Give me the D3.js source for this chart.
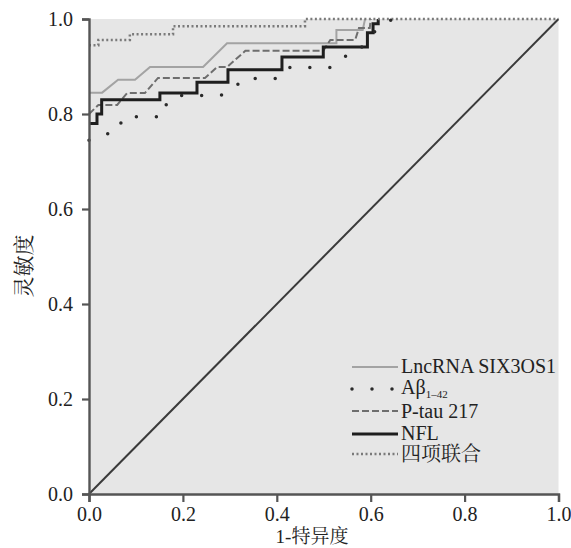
<!DOCTYPE html>
<html><head><meta charset="utf-8">
<script src="https://cdn.jsdelivr.net/npm/d3@7"></script>
<style>
html,body{margin:0;padding:0;background:#fff;}
text{font-family:"Liberation Serif","Times New Roman","Noto Serif CJK SC","Noto Sans CJK SC",serif;}
</style>
</head><body>
<svg id="chart" width="571" height="548"></svg>
<script>
// ---- data ----
const xTicks = [0, 0.2, 0.4, 0.6, 0.8, 1.0];
const yTicks = [0, 0.2, 0.4, 0.6, 0.8, 1.0];
const seriesNames = ["LncRNA SIX3OS1", "Aβ", "P-tau 217", "NFL", "四项联合"];
const lncRNA = [[0,0.845],[0.028,0.845],[0.062,0.872],[0.098,0.872],[0.13,0.899],[0.243,0.899],[0.294,0.949],[0.527,0.949],[0.527,0.977],[0.583,0.977],[0.588,1]];
const abeta = [[0,0.745],[0.023,0.756],[0.062,0.762],[0.072,0.794],[0.16,0.794],[0.166,0.828],[0.19,0.839],[0.28,0.839],[0.307,0.851],[0.328,0.875],[0.41,0.875],[0.428,0.898],[0.514,0.898],[0.535,0.919],[0.569,0.926],[0.606,0.972],[0.631,0.985],[0.645,1]];
const ptau = [[0,0.80],[0.02,0.819],[0.06,0.819],[0.081,0.844],[0.119,0.844],[0.147,0.876],[0.247,0.876],[0.273,0.899],[0.294,0.899],[0.333,0.933],[0.499,0.933],[0.514,0.956],[0.567,0.956],[0.575,0.981],[0.598,0.981],[0.6,1]];
const nfl = [[0,0.78],[0.017,0.78],[0.017,0.80],[0.027,0.80],[0.027,0.83],[0.151,0.83],[0.151,0.844],[0.23,0.844],[0.23,0.867],[0.296,0.867],[0.296,0.893],[0.411,0.893],[0.411,0.92],[0.499,0.92],[0.499,0.941],[0.593,0.941],[0.593,0.971],[0.605,0.971],[0.605,0.99],[0.616,0.99],[0.616,1]];
const combined = [[0,0.945],[0.02,0.945],[0.02,0.956],[0.087,0.956],[0.087,0.968],[0.179,0.968],[0.179,0.985],[0.46,0.985],[0.46,1],[1,1]];
const diagonal = [[0,0],[1,1]];

// ---- chart ----
const svg = d3.select("#chart");
const x = d3.scaleLinear().domain([0,1]).range([89,558.5]);
const y = d3.scaleLinear().domain([0,1]).range([494,19]);

svg.append("rect").attr("x",x(0)).attr("y",y(1)).attr("width",x(1)-x(0)).attr("height",y(0)-y(1)).attr("fill","#e6e6e6");

const line = d3.line().x(d=>x(d[0])).y(d=>y(d[1]));

svg.append("path").datum(diagonal).attr("d",line).attr("fill","none").attr("stroke","#3a3a3a").attr("stroke-width",2);

const styles = [
  {data:lncRNA, stroke:"#a3a3a3", width:2, dash:null, cap:"butt"},
  {data:ptau, stroke:"#6e6e6e", width:2, dash:"7,3", cap:"butt"},
  {data:nfl, stroke:"#1e1e1e", width:3, dash:null, cap:"butt"},
  {data:combined, stroke:"#7a7a7a", width:2.5, dash:"2,2.5", cap:"butt"},
  {data:abeta, stroke:"#2a2a2a", width:3.5, dash:"0,20", cap:"round"}
];
styles.forEach(s=>{
  const p = svg.append("path").datum(s.data).attr("d",line).attr("fill","none")
    .attr("stroke",s.stroke).attr("stroke-width",s.width).attr("stroke-linecap",s.cap)
    .attr("stroke-linejoin","miter");
  if (s.dash) p.attr("stroke-dasharray",s.dash);
});

// axes
const fmt = d3.format(".1f");
const gx = svg.append("g").attr("transform",`translate(0,${y(0)})`)
  .call(d3.axisBottom(x).tickValues(xTicks).tickFormat(fmt).tickSize(8).tickPadding(5));
const gy = svg.append("g").attr("transform",`translate(${x(0)},0)`)
  .call(d3.axisLeft(y).tickValues(yTicks).tickFormat(fmt).tickSize(7).tickPadding(9));
[gx,gy].forEach(g=>{
  g.select(".domain").attr("stroke","#555").attr("stroke-width",2.4);
  g.selectAll(".tick line").attr("stroke","#555").attr("stroke-width",2.2);
  g.selectAll(".tick text").attr("font-size",20).attr("fill","#222")
    .attr("font-family","'Liberation Serif',serif");
});

// axis titles
svg.append("text").attr("transform","translate(24,266) rotate(-90)")
  .attr("text-anchor","middle").attr("dominant-baseline","central")
  .attr("font-size",21).attr("fill","#222").text("灵敏度");
svg.append("text").attr("x",312).attr("y",543).attr("text-anchor","middle")
  .attr("font-size",19).attr("fill","#222").text("1-特异度");

// legend
const lx0 = 352, lx1 = 398, tx = 401;
const leg = svg.append("g");
const rows = [
  {ly:367, ty:373, s:styles[0]},
  {ly:389, ty:394, s:styles[4]},
  {ly:411, ty:418, s:styles[1]},
  {ly:434, ty:440, s:styles[2]},
  {ly:454, ty:461, s:styles[3]}
];
rows.forEach((r,i)=>{
  const l = leg.append("line").attr("x1",lx0).attr("x2",lx1).attr("y1",r.ly).attr("y2",r.ly)
    .attr("stroke",r.s.stroke).attr("stroke-width",r.s.width).attr("stroke-linecap",r.s.cap);
  if (r.s.dash) l.attr("stroke-dasharray",r.s.dash);
  const t = leg.append("text").attr("x",tx).attr("y",r.ty).attr("font-size",20).attr("fill","#222");
  if (i===1) {
    t.append("tspan").text(seriesNames[i]);
    t.append("tspan").attr("font-size",11).attr("dy",4).text("1–42");
  } else {
    t.text(seriesNames[i]);
  }
});
</script>
</body></html>
